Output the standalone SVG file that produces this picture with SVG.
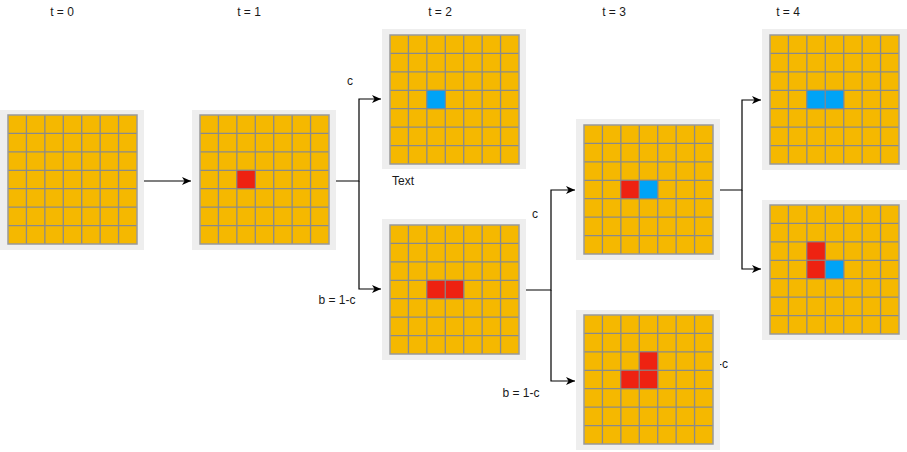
<svg xmlns="http://www.w3.org/2000/svg" xmlns:xlink="http://www.w3.org/1999/xlink" width="907" height="452" viewBox="0 0 907 452">
<style>
.bg{fill:#EEEEEE}
.lbl{font-family:"Liberation Sans",Arial,sans-serif;font-size:12px;fill:#1a1a1a}
.r{fill:#EE2211;stroke:#888;stroke-width:1}
.b{fill:#00A3F7;stroke:#888;stroke-width:1}
.conn{fill:none;stroke:#000;stroke-width:1.2}
</style>
<defs>
<marker id="ah" markerWidth="10" markerHeight="10" refX="9" refY="5" orient="auto" markerUnits="userSpaceOnUse">
<path d="M0,1 L9,5 L0,9 L2.5,5 Z" fill="#000"/>
</marker>
<g id="grid">
<rect x="0" y="0" width="129" height="129" fill="#F5B800"/>
<path d="M18.43,0V129M36.86,0V129M55.29,0V129M73.71,0V129M92.14,0V129M110.57,0V129M0,18.43H129M0,36.86H129M0,55.29H129M0,73.71H129M0,92.14H129M0,110.57H129" stroke="#8a8a8a" stroke-width="1.3" fill="none"/>
<rect x="0" y="0" width="129" height="129" fill="none" stroke="#999" stroke-width="1.5"/>
</g>
</defs>

<g id="labels">
<text class="lbl" x="62" y="16" text-anchor="middle">t = 0</text>
<text class="lbl" x="249" y="16" text-anchor="middle">t = 1</text>
<text class="lbl" x="440" y="16" text-anchor="middle">t = 2</text>
<text class="lbl" x="614" y="16" text-anchor="middle">t = 3</text>
<text class="lbl" x="788" y="16" text-anchor="middle">t = 4</text>
<text class="lbl" x="350" y="85" text-anchor="middle">c</text>
<text class="lbl" x="392" y="185">Text</text>
<text class="lbl" x="337" y="304" text-anchor="middle">b = 1-c</text>
<text class="lbl" x="535" y="218" text-anchor="middle">c</text>
<text class="lbl" x="521" y="397" text-anchor="middle">b = 1-c</text>
<text class="lbl" x="718" y="368">-c</text>
</g>

<g id="connectors">
<path class="conn" d="M144,181H191" marker-end="url(#ah)"/>
<path class="conn" d="M336,181H359V99H381" marker-end="url(#ah)"/>
<path class="conn" d="M359,181V289H381" marker-end="url(#ah)"/>
<path class="conn" d="M526,290H551V190H575" marker-end="url(#ah)"/>
<path class="conn" d="M551,290V381H575" marker-end="url(#ah)"/>
<path class="conn" d="M720,190H742V100H761" marker-end="url(#ah)"/>
<path class="conn" d="M742,190V269H761" marker-end="url(#ah)"/>
</g>

<g id="t0" transform="translate(0,110)">
<rect class="bg" width="144" height="140"/>
<use xlink:href="#grid" href="#grid" x="8" y="5"/>
</g>

<g id="t1" transform="translate(192,110)">
<rect class="bg" width="144" height="140"/>
<use xlink:href="#grid" href="#grid" x="8" y="5"/>
<rect class="r" x="44.86" y="60.29" width="18.43" height="18.43"/>
</g>

<g id="t2a" transform="translate(382,29)">
<rect class="bg" width="144" height="140"/>
<use xlink:href="#grid" href="#grid" x="8" y="6"/>
<rect class="b" x="44.86" y="61.29" width="18.43" height="18.43"/>
</g>

<g id="t2b" transform="translate(382,219)">
<rect class="bg" width="144" height="141"/>
<use xlink:href="#grid" href="#grid" x="8" y="6"/>
<rect class="r" x="44.86" y="61.29" width="18.43" height="18.43"/>
<rect class="r" x="63.29" y="61.29" width="18.43" height="18.43"/>
</g>

<g id="t3a" transform="translate(576,119)">
<rect class="bg" width="144" height="141"/>
<use xlink:href="#grid" href="#grid" x="8" y="6"/>
<rect class="r" x="44.86" y="61.29" width="18.43" height="18.43"/>
<rect class="b" x="63.29" y="61.29" width="18.43" height="18.43"/>
</g>

<g id="t3b" transform="translate(576,310)">
<rect class="bg" width="144" height="140"/>
<use xlink:href="#grid" href="#grid" x="8" y="5"/>
<rect class="r" x="63.29" y="41.86" width="18.43" height="18.43"/>
<rect class="r" x="44.86" y="60.29" width="18.43" height="18.43"/>
<rect class="r" x="63.29" y="60.29" width="18.43" height="18.43"/>
</g>

<g id="t4a" transform="translate(762,29)">
<rect class="bg" width="145" height="141"/>
<use xlink:href="#grid" href="#grid" x="8" y="6"/>
<rect class="b" x="44.86" y="61.29" width="18.43" height="18.43"/>
<rect class="b" x="63.29" y="61.29" width="18.43" height="18.43"/>
</g>

<g id="t4b" transform="translate(762,200)">
<rect class="bg" width="145" height="140"/>
<use xlink:href="#grid" href="#grid" x="8" y="5"/>
<rect class="r" x="44.86" y="41.86" width="18.43" height="18.43"/>
<rect class="r" x="44.86" y="60.29" width="18.43" height="18.43"/>
<rect class="b" x="63.29" y="60.29" width="18.43" height="18.43"/>
</g>
</svg>
